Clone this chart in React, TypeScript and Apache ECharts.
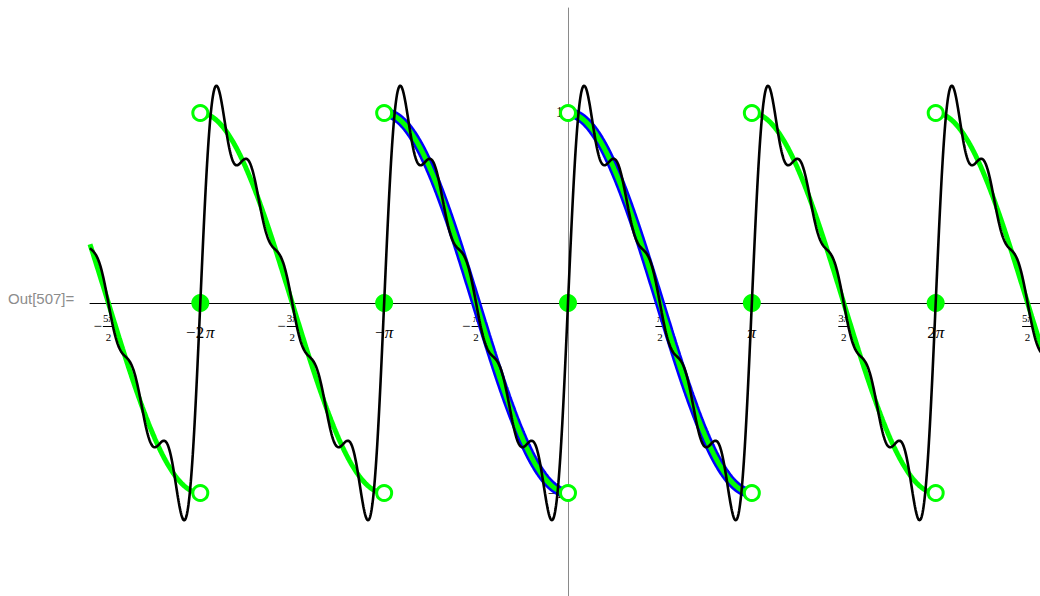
import React, { useEffect, useRef } from "react";
import * as echarts from "echarts";

const PI = Math.PI;

// Sine coefficients b_k (of sin 2kx) for the π-periodic extension of cos x on (0, π), first five terms
const harmonicCoefficients = [0.8488, 0.3395, 0.2183, 0.1617, 0.1286];
// Jump locations, in multiples of π
const jumpMultiples = [-2, -1, 0, 1, 2];
// Limits at each jump: right-hand and left-hand values
const jumpLimits = [1, -1];
// Value taken at each jump (mean of both limits)
const jumpValue = 0;
// Part of the real line that was plotted with the blue curve, in multiples of π
const blueSpan = [-1, 1];
// Plot window
const xRangeMultiples = [-2.6, 2.6];
const yRange = [-1.5526, 1.5526];
// Axis ticks
const xTickMultiples = [-2.5, -2, -1.5, -1, -0.5, 0.5, 1, 1.5, 2, 2.5];
const xTickLabels = ["−5π/2", "−2 π", "−3π/2", "−π", "−π/2", "π/2", "π", "3π/2", "2π", "5π/2"];
const yTickValues = [-1, 1];
const yTickLabels = ["−1", "1"];

const SAMPLES = 2000;
const SERIF = "'Liberation Serif', 'DejaVu Serif', serif";
const AXIS_GRAY = "#8a8a8a";

const partialSum = (x: number) =>
  harmonicCoefficients.reduce((s, b, i) => s + b * Math.sin(2 * (i + 1) * x), 0);
const periodicCos = (x: number) => Math.cos(x - PI * Math.floor(x / PI));

// Samples f on each open interval between consecutive breakpoints, separated by gaps
function sampleSegments(f: (x: number) => number, breaks: number[], perUnit: number) {
  const out: any[] = [];
  for (let i = 0; i < breaks.length - 1; i++) {
    const a = breaks[i];
    const b = breaks[i + 1];
    const n = Math.max(8, Math.round(((b - a) / PI) * perUnit));
    const eps = 1e-6;
    for (let j = 0; j <= n; j++) {
      const x = a + eps + ((b - a - 2 * eps) * j) / n;
      out.push([x, f(x)]);
    }
    if (i < breaks.length - 2) out.push([(a + b) / 2, "-"]);
  }
  return out;
}

function richText(s: string, size: number) {
  let t = "";
  for (const ch of s) {
    if (ch === "π") t += "{p|π}";
    else if (ch === " ") t += "{s| }";
    else t += `{d|${ch}}`;
  }
  return {
    text: t,
    fill: "#000",
    rich: {
      d: { fontSize: size, fontFamily: SERIF, fill: "#000" },
      p: { fontSize: size, fontFamily: SERIF, fontStyle: "italic", fill: "#000" },
      s: { fontSize: size * 0.45, fontFamily: SERIF, fill: "#000" },
    },
  };
}

export default function App() {
  const ref = useRef<HTMLDivElement>(null);

  useEffect(() => {
    const el = ref.current;
    if (!el) return;
    const chart = echarts.init(el, undefined, { renderer: "svg" });

    const xMin = xRangeMultiples[0] * PI;
    const xMax = xRangeMultiples[1] * PI;

    const blackData: number[][] = [];
    for (let i = 0; i <= SAMPLES; i++) {
      const x = xMin + ((xMax - xMin) * i) / SAMPLES;
      blackData.push([x, partialSum(x)]);
    }
    const greenBreaks = [xMin, ...jumpMultiples.map((m) => m * PI), xMax];
    const greenData = sampleSegments(periodicCos, greenBreaks, 400);
    const blueBreaks = jumpMultiples
      .filter((m) => m >= blueSpan[0] && m <= blueSpan[1])
      .map((m) => m * PI);
    const blueData = sampleSegments(periodicCos, blueBreaks, 400);

    const openPoints: number[][] = [];
    jumpMultiples.forEach((m) => jumpLimits.forEach((v) => openPoints.push([m * PI, v])));
    const closedPoints = jumpMultiples.map((m) => [m * PI, jumpValue]);

    chart.setOption({
      animation: false,
      backgroundColor: "#fff",
      grid: { left: 90, right: 0, top: 8, bottom: 0 },
      xAxis: {
        type: "value",
        min: xMin,
        max: xMax,
        axisLine: { onZero: true, lineStyle: { color: "#000", width: 1 } },
        axisTick: { show: false },
        axisLabel: { show: false },
        splitLine: { show: false },
      },
      yAxis: {
        type: "value",
        min: yRange[0],
        max: yRange[1],
        axisLine: { onZero: true, lineStyle: { color: AXIS_GRAY, width: 1 } },
        axisTick: { show: false },
        axisLabel: { show: false },
        splitLine: { show: false },
      },
      series: [
        {
          type: "line",
          data: blueData,
          showSymbol: false,
          silent: true,
          lineStyle: { color: "#0000ff", width: 10 },
          z: 2,
        },
        {
          type: "line",
          data: greenData,
          showSymbol: false,
          silent: true,
          lineStyle: { color: "#00ff00", width: 5 },
          z: 3,
        },
        {
          type: "scatter",
          data: closedPoints,
          symbol: "circle",
          symbolSize: 18,
          itemStyle: { color: "#00ff00", opacity: 1 },
          silent: true,
          z: 4,
        },
        {
          type: "scatter",
          data: openPoints,
          symbol: "circle",
          symbolSize: 15,
          itemStyle: { color: "#fff", borderColor: "#00ff00", borderWidth: 3, opacity: 1 },
          silent: true,
          z: 4,
        },
        {
          type: "line",
          data: blackData,
          showSymbol: false,
          silent: true,
          lineStyle: { color: "#000", width: 2.6 },
          z: 5,
        },
      ],
    });

    const toPx = (x: number, y: number) =>
      chart.convertToPixel({ xAxisIndex: 0, yAxisIndex: 0 }, [x, y]) as number[];

    const graphics: any[] = [
      {
        type: "text",
        x: 8,
        y: 298,
        style: {
          text: "Out[507]=",
          fontFamily: "'Liberation Sans', Arial, sans-serif",
          fontSize: 15,
          fill: "#8c8c8c",
          align: "left",
          verticalAlign: "middle",
        },
        z: 0,
      },
    ];

    // y ticks and labels beside the vertical axis
    yTickValues.forEach((v, i) => {
      const [px, py] = toPx(0, v);
      graphics.push({
        type: "line",
        shape: { x1: px, y1: py, x2: px + 4, y2: py },
        style: { stroke: AXIS_GRAY, lineWidth: 1 },
        z: 0,
      });
      graphics.push({
        type: "text",
        x: px - 5,
        y: py,
        style: { ...richText(yTickLabels[i], 14), align: "right", verticalAlign: "middle" },
        z: 0,
      });
    });

    // x tick labels, stacked fractions where needed
    xTickMultiples.forEach((m, i) => {
      const [px, py] = toPx(m * PI, 0);
      const label = xTickLabels[i];
      const negative = label.startsWith("−");
      const body = negative ? label.slice(1) : label;
      if (body.includes("/")) {
        const [num, den] = body.split("/");
        const half = num.length > 1 ? 5.5 : 4.5;
        graphics.push({
          type: "text",
          x: px,
          y: py + 15,
          style: { ...richText(num, 11), align: "center", verticalAlign: "middle" },
          z: 0,
        });
        graphics.push({
          type: "line",
          shape: { x1: px - half, y1: py + 23.5, x2: px + half, y2: py + 23.5 },
          style: { stroke: "#000", lineWidth: 1 },
          z: 0,
        });
        graphics.push({
          type: "text",
          x: px,
          y: py + 34,
          style: { ...richText(den, 11), align: "center", verticalAlign: "middle" },
          z: 0,
        });
        if (negative) {
          graphics.push({
            type: "text",
            x: px - half - 1,
            y: py + 23,
            style: { ...richText("−", 15), align: "right", verticalAlign: "middle" },
            z: 0,
          });
        }
      } else {
        graphics.push({
          type: "text",
          x: px,
          y: py + 29,
          style: { ...richText(label, 17), align: "center", verticalAlign: "middle" },
          z: 0,
        });
      }
    });
    chart.setOption({ graphic: graphics });

    return () => chart.dispose();
  }, []);

  return (
    <div
      style={{
        position: "fixed",
        left: 0,
        top: 0,
        width: 1040,
        height: 596,
        overflow: "hidden",
        background: "#fff",
      }}
    >
      <div ref={ref} style={{ width: 1046, height: 598 }} />
    </div>
  );
}
